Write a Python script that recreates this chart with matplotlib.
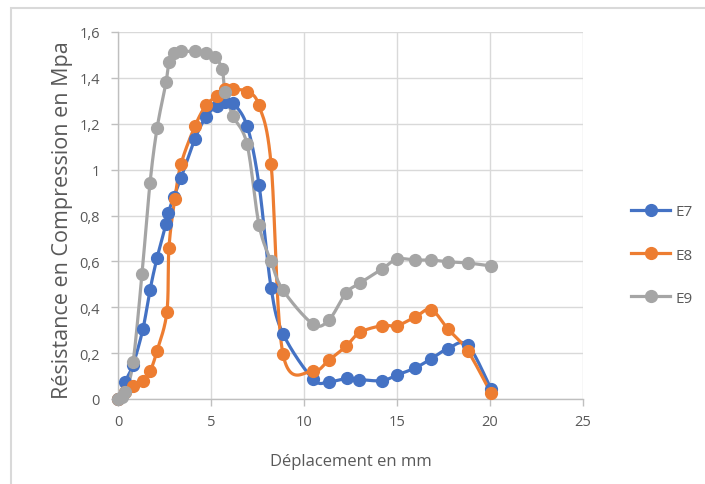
import numpy as np
import matplotlib
matplotlib.use("Agg")
import matplotlib.pyplot as plt
from matplotlib.lines import Line2D
from matplotlib.patches import Rectangle

# ---- data ----
x7 = [0, 0.38, 0.81, 1.34, 1.72, 2.1, 2.58, 2.69, 3.0, 3.39, 4.14, 4.73, 5.3, 5.75, 6.18,
      6.94, 7.58, 8.23, 8.87, 10.48, 11.34, 12.3, 12.96, 14.2, 15.0, 15.97, 16.83, 17.74, 18.8, 20.05]
y7 = [0, 0.075, 0.15, 0.305, 0.475, 0.615, 0.763, 0.81, 0.88, 0.965, 1.135, 1.23, 1.278, 1.295, 1.29,
      1.19, 0.935, 0.485, 0.285, 0.087, 0.075, 0.09, 0.085, 0.08, 0.105, 0.135, 0.175, 0.22, 0.235, 0.045]

x8 = [0, 0.38, 0.81, 1.34, 1.72, 2.1, 2.63, 2.74, 3.05, 3.39, 4.14, 4.73, 5.3, 5.75, 6.18,
      6.94, 7.58, 8.23, 8.87, 10.48, 11.34, 12.26, 13.0, 14.2, 15.0, 15.97, 16.83, 17.74, 18.8, 20.05]
y8 = [0, 0.03, 0.057, 0.08, 0.12, 0.21, 0.38, 0.66, 0.87, 1.025, 1.19, 1.28, 1.32, 1.35, 1.35,
      1.34, 1.28, 1.025, 0.196, 0.122, 0.17, 0.23, 0.29, 0.32, 0.32, 0.357, 0.39, 0.305, 0.21, 0.026]

x9 = [0, 0.2, 0.4, 0.81, 1.29, 1.72, 2.1, 2.58, 2.74, 3.0, 3.39, 4.14, 4.73, 5.2, 5.6, 5.75, 6.18,
      6.94, 7.58, 8.23, 8.87, 10.48, 11.34, 12.26, 13.0, 14.2, 15.0, 15.97, 16.83, 17.74, 18.8, 20.05]
y9 = [0, 0.01, 0.03, 0.16, 0.545, 0.94, 1.18, 1.38, 1.47, 1.51, 1.515, 1.515, 1.51, 1.49, 1.44, 1.34, 1.235,
      1.11, 0.76, 0.6, 0.475, 0.327, 0.345, 0.462, 0.505, 0.567, 0.61, 0.606, 0.606, 0.598, 0.593, 0.58]

series = [("E7", x7, y7, "#4472C4"), ("E8", x8, y8, "#ED7D31"), ("E9", x9, y9, "#A5A5A5")]

xticks = [0, 5, 10, 15, 20, 25]
yticks = [0, 0.2, 0.4, 0.6, 0.8, 1.0, 1.2, 1.4, 1.6]
ytick_labels = ["0", "0,2", "0,4", "0,6", "0,8", "1", "1,2", "1,4", "1,6"]


def smooth(x, y, n=24):
    P = np.column_stack([x, y]).astype(float)
    out = [P[0]]
    t = np.linspace(0, 1, n)[1:, None]
    for i in range(len(P) - 1):
        p0 = P[i - 1] if i > 0 else P[i]
        p1, p2 = P[i], P[i + 1]
        p3 = P[i + 2] if i + 2 < len(P) else P[i + 1]
        c1 = p1 + (p2 - p0) / 6.0
        c2 = p2 - (p3 - p1) / 6.0
        seg = ((1 - t) ** 3) * p1 + 3 * ((1 - t) ** 2) * t * c1 + 3 * (1 - t) * t ** 2 * c2 + t ** 3 * p2
        out.extend(seg)
    out = np.array(out)
    return out[:, 0], out[:, 1]


plt.rcParams['font.family'] = ['Open Sans', 'DejaVu Sans']
fig = plt.figure(figsize=(7.05, 4.85), dpi=100)
ax = fig.add_axes([118 / 705, 1 - 400 / 485, (583 - 118) / 705, (400 - 33) / 485])

for name, xs, ys, c in series:
    sx, sy = smooth(xs, ys)
    ax.plot(sx, sy, color=c, lw=2.3, zorder=3, clip_on=False, solid_capstyle='round')
    ax.plot(xs, ys, 'o', color=c, ms=8.5, zorder=4, clip_on=False)

ax.set_xlim(0, 25)
ax.set_ylim(0, 1.6)
ax.set_xticks(xticks)
ax.set_yticks(yticks)
ax.set_yticklabels(ytick_labels)
ax.grid(True, color="#d9d9d9", lw=1)
ax.set_axisbelow(True)
for s in ["top", "right"]:
    ax.spines[s].set_visible(False)
for s in ["left", "bottom"]:
    ax.spines[s].set_color("#bfbfbf")
    ax.spines[s].set_linewidth(1)
ax.tick_params(colors="#bfbfbf", labelcolor="#595959", labelsize=10.5, length=5, width=1)
ax.tick_params(axis='y', pad=8)
ax.tick_params(axis='x', pad=6)

ax.set_ylabel("Résistance en Compression en Mpa", fontsize=15.5, color="#595959")
ax.yaxis.set_label_coords((73 - 118) / 465, 0.49)
ax.set_xlabel("Déplacement en mm", fontsize=12, color="#595959")
ax.xaxis.set_label_coords(0.5, -(454 - 400) / 367)

handles = [Line2D([0], [0], color=c, lw=2.3, marker='o', ms=8.5) for _, _, _, c in series]
fig.legend(handles, [s[0] for s in series], loc="center left",
           bbox_to_anchor=(617 / 705, 1 - 256 / 485), frameon=False, fontsize=11,
           labelcolor="#595959", handlelength=2.6, handletextpad=0.3, labelspacing=1.85)

fig.patches.append(Rectangle((11 / 705, -0.05), 1.1, 1 - 9 / 485 + 0.05, transform=fig.transFigure,
                             fill=False, edgecolor="#d9d9d9", lw=1.5))

fig.savefig("out.png", dpi=100, facecolor="white")
